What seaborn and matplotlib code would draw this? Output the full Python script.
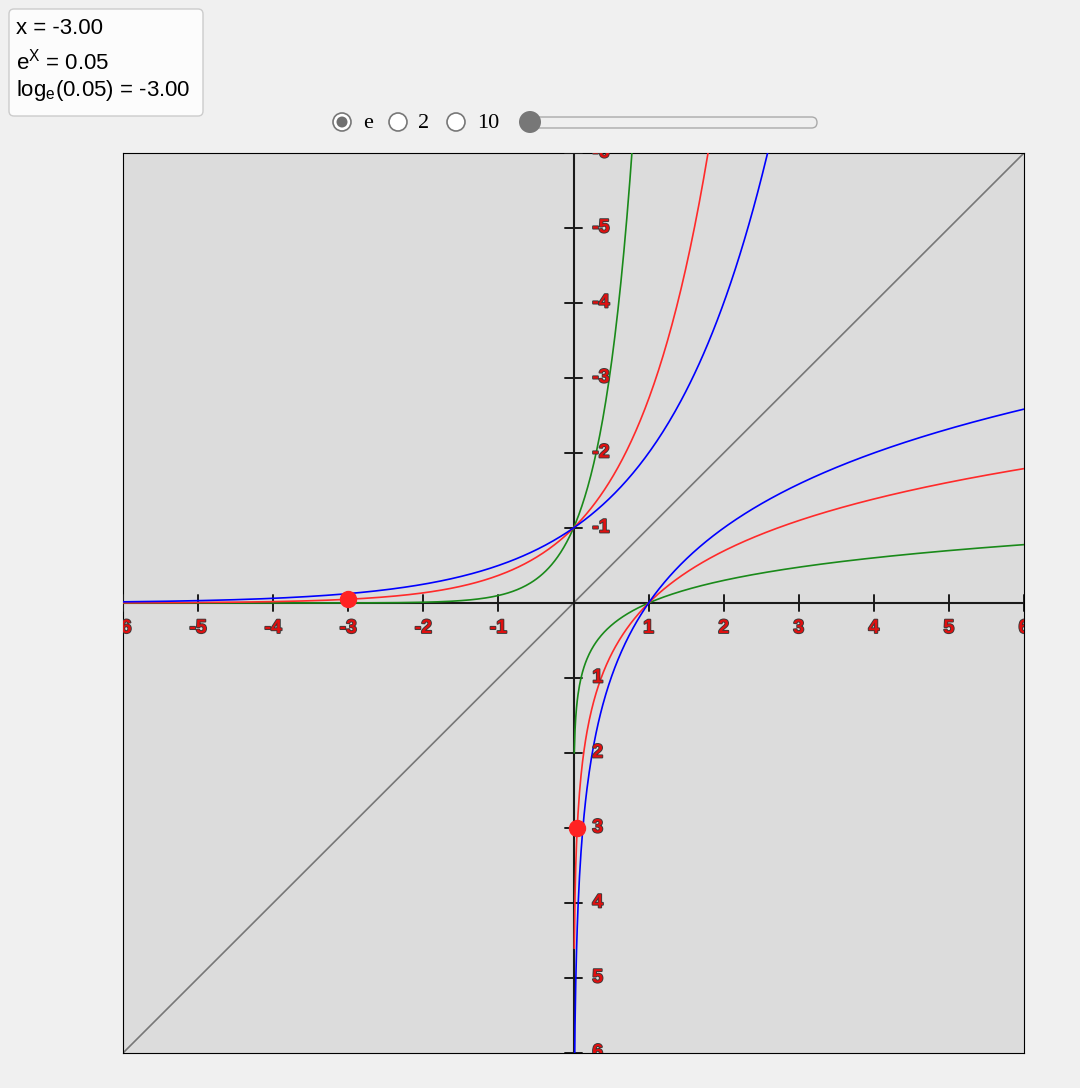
import numpy as np
import pandas as pd
import matplotlib.pyplot as plt
import matplotlib.patheffects as pe
from matplotlib.patches import FancyBboxPatch, Circle
import seaborn as sns

# chart content
bases = [10, np.e, 2]
base_colors = ['#1a8a1a', '#ff2a2a', '#0000ff']
x_exp = np.linspace(-6, 6, 600)
x_log = np.linspace(0.01, 6, 600)
x_marker = -3.0
ticks = [-6, -5, -4, -3, -2, -1, 1, 2, 3, 4, 5, 6]
radio_labels = ['e', '2', '10']

W, H = 1080, 1088
sns.set_theme(style='white')
plt.rcParams['font.family'] = ['Liberation Sans', 'DejaVu Sans']
plt.rcParams['mathtext.fontset'] = 'custom'
plt.rcParams['mathtext.rm'] = 'Liberation Sans'
plt.rcParams['mathtext.it'] = 'Liberation Sans'

fig = plt.figure(figsize=(W / 100, H / 100), dpi=100, facecolor='#f0f0f0')
ax = fig.add_axes([123 / W, (H - 1053) / H, 901 / W, 900 / H])
ax.set_facecolor('#dcdcdc')
ax.set_xlim(-6, 6)
ax.set_ylim(-6, 6)
ax.set_xticks([])
ax.set_yticks([])
for s in ax.spines.values():
    s.set_color('black')
    s.set_linewidth(0.8)

# diagonal y = x
ax.plot([-6, 6], [-6, 6], color='#777777', lw=1.2, zorder=2)

# axes through origin
ax.axhline(0, color='#1a1a1a', lw=1.5, zorder=3)
ax.axvline(0, color='#1a1a1a', lw=1.5, zorder=3)
tk = 0.107
for t in ticks:
    ax.plot([t, t], [-tk, tk], color='#1a1a1a', lw=1.4, zorder=3)
    ax.plot([-tk, tk], [t, t], color='#1a1a1a', lw=1.4, zorder=3)

rows = []
for b, c in zip(bases, base_colors):
    rows.append(pd.DataFrame({'x': x_exp, 'y': b ** x_exp, 'kind': 'exp', 'base': str(b)}))
    rows.append(pd.DataFrame({'x': x_log, 'y': np.log(x_log) / np.log(b), 'kind': 'log', 'base': str(b)}))
df = pd.concat(rows)
pal = {str(b): c for b, c in zip(bases, base_colors)}
for kind in ['exp', 'log']:
    sns.lineplot(data=df[df['kind'] == kind], x='x', y='y', hue='base', palette=pal,
                 estimator=None, sort=False, lw=1.2, legend=False, ax=ax, zorder=4)
ax.set_xlabel('')
ax.set_ylabel('')
ax.set_xlim(-6, 6)
ax.set_ylim(-6, 6)

# markers
yv = np.exp(x_marker)
ax.plot([x_marker, yv], [yv, x_marker], 'o', color='#ff2222', ms=11.5, zorder=6)

# tick labels (red with dark outline)
lab_fx = [pe.Stroke(linewidth=1.3, foreground='#3a3a3a'), pe.Normal()]
for t in ticks:
    ax.text(t, -0.34, str(t), color='#e01010', fontsize=14, fontweight='bold',
            ha='center', va='center', path_effects=lab_fx, clip_on=True, zorder=7)
    ax.text(0.25, t, str(-t), color='#e01010', fontsize=14, fontweight='bold',
            ha='left', va='center', path_effects=lab_fx, clip_on=True, zorder=7)

# info box
T = fig.dpi_scale_trans


def px(x, y):
    return (x / 100, (H - y) / 100)


box = FancyBboxPatch(px(9, 116), 194 / 100, 107 / 100, boxstyle='round,pad=0,rounding_size=0.05',
                     transform=T, facecolor='#fcfcfc', edgecolor='#cccccc', lw=1)
fig.add_artist(box)
fig.text(*px(16, 29), 'x = -3.00', transform=T, fontsize=16, va='center', color='black')
fig.text(*px(16, 62), r'$\mathregular{e^X}$ = 0.05', transform=T, fontsize=16, va='center', color='black')
fig.text(*px(16, 91), r'$\mathregular{log_e}$(0.05) = -3.00', transform=T, fontsize=16, va='center', color='black')

# radio buttons
rx = [342, 398, 456]
lx = [368, 424, 488]
for i, (cx, tx, lab) in enumerate(zip(rx, lx, radio_labels)):
    fig.add_artist(Circle(px(cx, 122), 0.09, transform=T, facecolor='white',
                          edgecolor='#777777', lw=1.2))
    if i == 0:
        fig.add_artist(Circle(px(cx, 122), 0.055, transform=T, facecolor='#707070', edgecolor='none'))
    fig.text(*px(tx, 124), lab, transform=T, fontsize=16, ha='center', va='center',
             family=['Liberation Serif', 'DejaVu Serif'], color='black')

# slider
track = FancyBboxPatch(px(528, 128), 289 / 100, 11 / 100, boxstyle='round,pad=0,rounding_size=0.055',
                       transform=T, facecolor='#efefef', edgecolor='#aaaaaa', lw=1)
fig.add_artist(track)
fig.add_artist(Circle(px(530, 122), 0.11, transform=T, facecolor='#777777', edgecolor='none'))

fig.savefig('out.png', dpi=100, facecolor=fig.get_facecolor())
